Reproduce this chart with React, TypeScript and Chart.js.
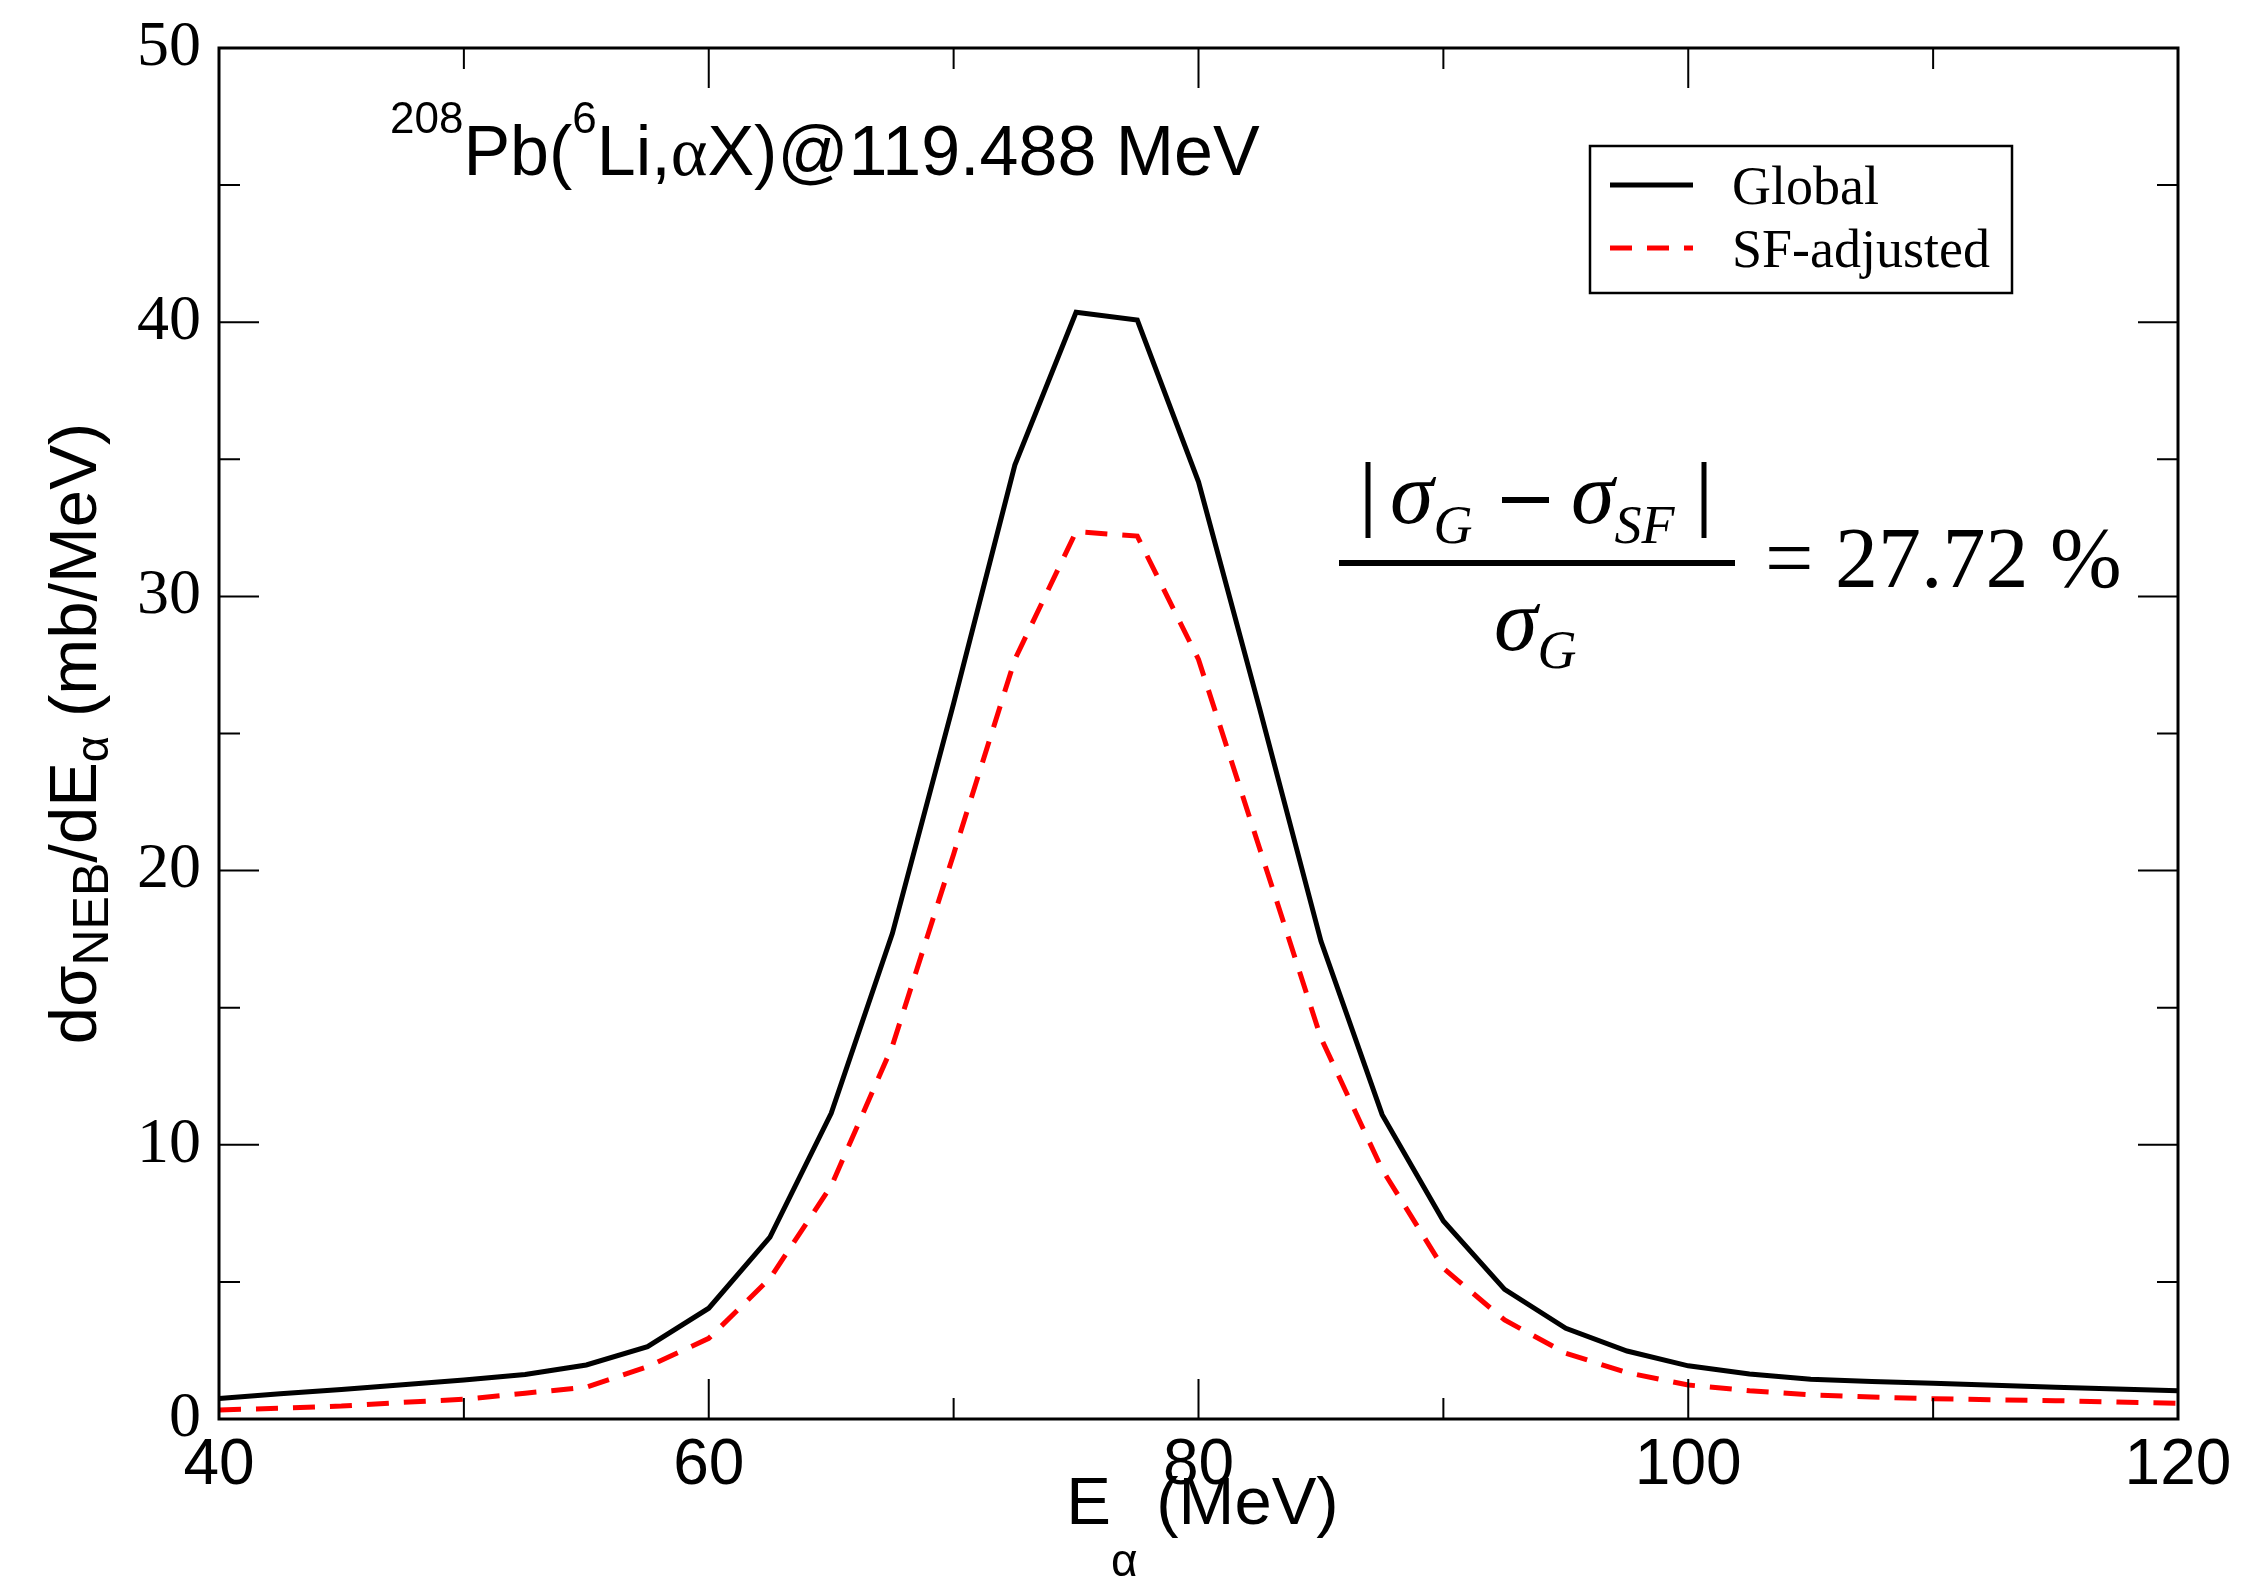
import React, { useEffect, useRef } from "react";
import { Chart, registerables } from "chart.js";

Chart.register(...registerables);

// ---------------- data ----------------
const energies = [
  40, 42.5, 45, 47.5, 50, 52.5, 55, 57.5, 60, 62.5, 65, 67.5, 70, 72.5, 75, 77.5,
  80, 82.5, 85, 87.5, 90, 92.5, 95, 97.5, 100, 102.5, 105, 107.5, 110, 112.5, 115, 117.5, 120,
];
const globalValues = [
  0.75, 0.92, 1.08, 1.25, 1.42, 1.62, 1.97, 2.64, 4.04, 6.63, 11.15, 17.71, 26.1, 34.79, 40.36, 40.08,
  34.18, 25.9, 17.43, 11.1, 7.22, 4.73, 3.31, 2.48, 1.94, 1.64, 1.45, 1.37, 1.3, 1.23, 1.16, 1.09, 1.03,
];
const sfValues = [
  0.33, 0.39, 0.47, 0.61, 0.72, 0.94, 1.16, 1.91, 2.94, 5.13, 8.5, 13.6, 20.6, 27.7, 32.36, 32.2,
  27.7, 20.8, 13.9, 9.1, 5.5, 3.61, 2.4, 1.69, 1.24, 1.03, 0.88, 0.8, 0.74, 0.7, 0.67, 0.62, 0.57,
];
const seriesLabels = ["Global", "SF-adjusted"];
const xRange = [40, 120];
const yRange = [0, 50];
const xMajorStep = 20;
const xMinorStep = 10;
const yMajorStep = 10;
const yMinorStep = 5;
const ratioText = "= 27.72 %";

const W = 2249;
const H = 1587;
const SANS = '"Liberation Sans", Arial, Helvetica, sans-serif';
const SERIF = '"Liberation Serif", "Times New Roman", Times, serif';

type Run = { t: string; font: string; dy?: number; dx?: number };

function runsWidth(ctx: CanvasRenderingContext2D, runs: Run[]) {
  let w = 0;
  for (const r of runs) {
    ctx.font = r.font;
    w += ctx.measureText(r.t).width + (r.dx || 0);
  }
  return w;
}

function drawRuns(ctx: CanvasRenderingContext2D, x: number, y: number, runs: Run[]) {
  let cx = x;
  for (const r of runs) {
    ctx.font = r.font;
    cx += r.dx || 0;
    ctx.fillText(r.t, cx, y + (r.dy || 0));
    cx += ctx.measureText(r.t).width;
  }
}

const decorPlugin = {
  id: "decor",
  afterDraw(chart: any) {
    const ctx: CanvasRenderingContext2D = chart.ctx;
    const { left, right, top, bottom } = chart.chartArea;
    const xs = chart.scales.x;
    const ys = chart.scales.y;
    ctx.save();
    ctx.strokeStyle = "#000";
    ctx.fillStyle = "#000";
    ctx.lineCap = "butt";

    // inward ticks on all four sides
    ctx.lineWidth = 2;
    ctx.beginPath();
    for (let v = xRange[0]; v <= xRange[1] + 1e-9; v += xMinorStep) {
      const major = Math.abs(v % xMajorStep) < 1e-9;
      const L = major ? 40 : 21;
      const px = xs.getPixelForValue(v);
      ctx.moveTo(px, bottom);
      ctx.lineTo(px, bottom - L);
      ctx.moveTo(px, top);
      ctx.lineTo(px, top + L);
    }
    for (let v = yRange[0]; v <= yRange[1] + 1e-9; v += yMinorStep) {
      const major = Math.abs(v % yMajorStep) < 1e-9;
      const L = major ? 40 : 21;
      const py = ys.getPixelForValue(v);
      ctx.moveTo(left, py);
      ctx.lineTo(left + L, py);
      ctx.moveTo(right, py);
      ctx.lineTo(right - L, py);
    }
    ctx.stroke();

    // frame
    ctx.lineWidth = 3;
    ctx.strokeRect(left, top, right - left, bottom - top);

    // x-axis title
    ctx.textAlign = "left";
    ctx.textBaseline = "alphabetic";
    const xt: Run[] = [
      { t: "E", font: `67px ${SANS}` },
      { t: "α", font: `46px ${SANS}`, dy: 52 },
      { t: " (MeV)", font: `67px ${SANS}` },
    ];
    const xtw = runsWidth(ctx, xt);
    drawRuns(ctx, (left + right) / 2 - xtw / 2 + 4, 1524, xt);

    // y-axis title (rotated)
    const yt: Run[] = [
      { t: "dσ", font: `67px ${SANS}` },
      { t: "NEB", font: `50px ${SANS}`, dy: 12 },
      { t: "/dE", font: `67px ${SANS}` },
      { t: "α", font: `46px ${SANS}`, dy: 12 },
      { t: " (mb/MeV)", font: `67px ${SANS}` },
    ];
    const ytw = runsWidth(ctx, yt);
    ctx.save();
    ctx.translate(96, (top + bottom) / 2);
    ctx.rotate(-Math.PI / 2);
    drawRuns(ctx, -ytw / 2, 0, yt);
    ctx.restore();

    // reaction label
    drawRuns(ctx, 390, 175, [
      { t: "208", font: `44px ${SANS}`, dy: -42 },
      { t: "Pb(", font: `70px ${SANS}` },
      { t: "6", font: `44px ${SANS}`, dy: -42 },
      { t: "Li,", font: `70px ${SANS}` },
      { t: "α", font: `70px ${SERIF}` },
      { t: "X)@119.488 MeV", font: `70px ${SANS}` },
    ]);

    // legend
    const ds = chart.data.datasets;
    ctx.lineWidth = 2.5;
    ctx.strokeRect(1590, 146, 422, 147);
    const rows = [185, 248];
    ds.forEach((d: any, i: number) => {
      ctx.save();
      ctx.strokeStyle = d.borderColor;
      ctx.lineWidth = d.borderWidth;
      ctx.setLineDash(d.borderDash || []);
      ctx.beginPath();
      ctx.moveTo(1610, rows[i]);
      ctx.lineTo(1693, rows[i]);
      ctx.stroke();
      ctx.restore();
      ctx.font = `54px ${SERIF}`;
      ctx.fillStyle = "#000";
      ctx.fillText(d.label, 1732, rows[i] + 19);
    });

    // ratio formula
    const IT = (s: number) => `italic ${s}px ${SERIF}`;
    const UP = (s: number) => `${s}px ${SERIF}`;
    ctx.fillRect(1339, 560, 396, 6);
    ctx.lineWidth = 5;
    ctx.beginPath();
    ctx.moveTo(1368, 462);
    ctx.lineTo(1368, 538);
    ctx.moveTo(1704, 462);
    ctx.lineTo(1704, 538);
    ctx.stroke();
    drawRuns(ctx, 1390, 523, [
      { t: "σ", font: IT(88) },
      { t: "G", font: IT(54), dy: 20 },
    ]);
    ctx.fillRect(1502, 497, 47, 6);
    drawRuns(ctx, 1571, 523, [
      { t: "σ", font: IT(88) },
      { t: "SF", font: IT(54), dy: 20 },
    ]);
    drawRuns(ctx, 1494, 650, [
      { t: "σ", font: IT(88) },
      { t: "G", font: IT(54), dy: 18 },
    ]);
    ctx.font = UP(86);
    ctx.fillText(ratioText, 1765, 587);

    ctx.restore();
  },
};

export default function App() {
  const ref = useRef<HTMLCanvasElement | null>(null);

  useEffect(() => {
    const canvas = ref.current;
    if (!canvas) return;
    const chart = new Chart(canvas, {
      type: "line",
      data: {
        datasets: [
          {
            label: seriesLabels[0],
            data: energies.map((x, i) => ({ x, y: globalValues[i] })),
            borderColor: "#000000",
            backgroundColor: "#000000",
            borderWidth: 5,
            pointRadius: 0,
            tension: 0,
            fill: false,
          },
          {
            label: seriesLabels[1],
            data: energies.map((x, i) => ({ x, y: sfValues[i] })),
            borderColor: "#ff0000",
            backgroundColor: "#ff0000",
            borderWidth: 5,
            borderDash: [22, 15],
            pointRadius: 0,
            tension: 0,
            fill: false,
          },
        ],
      },
      options: {
        responsive: false,
        animation: false,
        devicePixelRatio: 1,
        layout: { padding: { left: 0, right: 71, top: 48, bottom: 0 } },
        plugins: {
          legend: { display: false },
          tooltip: { enabled: false },
          title: { display: false },
        },
        scales: {
          x: {
            type: "linear",
            position: "bottom",
            min: xRange[0],
            max: xRange[1],
            grid: { display: false, drawTicks: false },
            border: { display: false },
            ticks: {
              stepSize: xMajorStep,
              autoSkip: false,
              maxRotation: 0,
              color: "#000",
              padding: 9,
              font: { family: SANS, size: 64 },
            },
            afterFit: (s: any) => {
              s.height = H - 1419;
              s.paddingLeft = 0;
              s.paddingRight = 0;
            },
          },
          y: {
            type: "linear",
            position: "left",
            min: yRange[0],
            max: yRange[1],
            grid: { display: false, drawTicks: false },
            border: { display: false },
            ticks: {
              stepSize: yMajorStep,
              color: "#000",
              padding: 18,
              font: { family: SERIF, size: 64 },
            },
            afterFit: (s: any) => {
              s.width = 219;
              s.paddingTop = 0;
              s.paddingBottom = 0;
            },
          },
        },
      },
      plugins: [decorPlugin],
    } as any);
    return () => chart.destroy();
  }, []);

  return (
    <div
      style={{
        position: "fixed",
        left: 0,
        top: 0,
        width: W,
        height: H,
        background: "#fff",
      }}
    >
      <canvas ref={ref} width={W} height={H} style={{ display: "block", width: W, height: H }} />
    </div>
  );
}
